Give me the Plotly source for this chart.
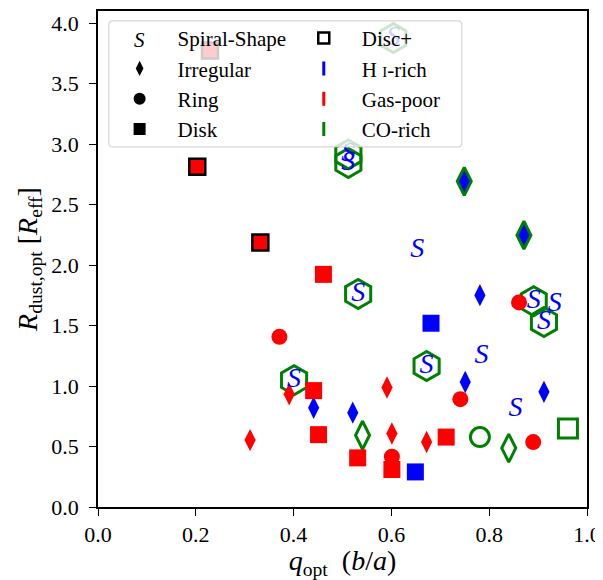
import plotly.graph_objects as go

RED = "#ff0000"
BLUE = "#0000ff"
GREEN = "#008000"
FONT = "Liberation Serif"

# ---- data ----
s_hi_x = [0.653, 0.784, 0.854, 0.934]
s_hi_y = [2.126, 1.245, 0.811, 1.680]
s_co_x = [0.604, 0.512, 0.512, 0.532, 0.891, 0.912, 0.672, 0.401]
s_co_y = [3.876, 2.915, 2.844, 1.761, 1.701, 1.529, 1.165, 1.048]
disk_gp_x = [0.461, 0.441, 0.451, 0.531, 0.601, 0.712]
disk_gp_y = [1.923, 0.962, 0.598, 0.406, 0.310, 0.578]
discp_gp_x = [0.229, 0.203, 0.332]
discp_gp_y = [3.774, 2.813, 2.186]
disk_hi_x = [0.681, 0.649]
disk_hi_y = [1.519, 0.290]
irr_gp_x = [0.311, 0.391, 0.591, 0.601, 0.672]
irr_gp_y = [0.553, 0.932, 0.988, 0.608, 0.537]
irr_hi_x = [0.441, 0.521, 0.751, 0.912, 0.781]
irr_hi_y = [0.821, 0.780, 1.033, 0.952, 1.751]
irr_hico_x = [0.749, 0.871]
irr_hico_y = [2.692, 2.247]
ring_gp_x = [0.371, 0.741, 0.861, 0.890, 0.601]
ring_gp_y = [1.407, 0.891, 1.691, 0.537, 0.416]
irr_co_x = [0.541, 0.840]
irr_co_y = [0.593, 0.487]
ring_co_x = [0.781]
ring_co_y = [0.578]
discp_co_x = [0.961]
discp_co_y = [0.649]

x_ticks = [0.0, 0.2, 0.4, 0.6, 0.8, 1.0]
y_ticks = [0.0, 0.5, 1.0, 1.5, 2.0, 2.5, 3.0, 3.5, 4.0]

legend_col1 = ["Spiral-Shape", "Irregular", "Ring", "Disk"]
legend_col2 = ["Disc+", "H <span style='font-size:15px'>I</span>-rich", "Gas-poor", "CO-rich"]

fig = go.Figure()


def pts(x, y, symbol, color, size, lw=0, lc=None):
    fig.add_trace(go.Scatter(
        x=x, y=y, mode="markers", showlegend=False, hoverinfo="skip",
        marker=dict(symbol=symbol, color=color, size=size,
                    line=dict(width=lw, color=lc if lc else color))))


# hexagons (CO-rich spirals)
pts(s_co_x, s_co_y, "hexagon-open", GREEN, 29, 3)
# circles
pts(ring_gp_x, ring_gp_y, "circle", RED, 16)
pts(ring_co_x, ring_co_y, "circle-open", GREEN, 19, 3)
# diamonds
pts(irr_gp_x, irr_gp_y, "diamond-tall", RED, 16)
pts(irr_hi_x, irr_hi_y, "diamond-tall", BLUE, 16)
pts(irr_hico_x, irr_hico_y, "diamond-tall", BLUE, 20, 3, GREEN)
pts(irr_co_x, irr_co_y, "diamond-tall-open", GREEN, 20, 3)
# squares
pts(disk_gp_x, disk_gp_y, "square", RED, 17)
pts(disk_hi_x, disk_hi_y, "square", BLUE, 17)
pts(discp_gp_x, discp_gp_y, "square", RED, 16, 2.5, "black")
pts(discp_co_x, discp_co_y, "square-open", GREEN, 19, 3)

# S markers
for sx, sy in ((s_hi_x, s_hi_y), (s_co_x, s_co_y)):
    fig.add_trace(go.Scatter(
        x=sx, y=sy, mode="text", text=["S"] * len(sx), showlegend=False,
        hoverinfo="skip",
        textfont=dict(family=FONT, size=28, color=BLUE, style="italic")))

# ---- legend entries ----
leg_styles1 = [
    dict(symbol="square", color="rgba(0,0,0,0)", size=10),
    dict(symbol="diamond-tall", color="black", size=11),
    dict(symbol="circle", color="black", size=12),
    dict(symbol="square", color="black", size=12),
]
leg_styles2 = [
    dict(symbol="square-open", color="black", size=11, line=dict(width=2.5, color="black")),
    dict(symbol="line-ns", color=BLUE, size=10, line=dict(width=3, color=BLUE)),
    dict(symbol="line-ns", color=RED, size=10, line=dict(width=3, color=RED)),
    dict(symbol="line-ns", color=GREEN, size=10, line=dict(width=3, color=GREEN)),
]
for i, (name, st) in enumerate(zip(legend_col1, leg_styles1)):
    fig.add_trace(go.Scatter(x=[None], y=[None], mode="markers", name=name,
                             marker=st, legend="legend", legendgroup=f"a{i}"))
for i, (name, st) in enumerate(zip(legend_col2, leg_styles2)):
    fig.add_trace(go.Scatter(x=[None], y=[None], mode="markers", name=name,
                             marker=st, legend="legend2", legendgroup=f"b{i}"))

# legend frame (rounded, semi-transparent white)
x0, x1, y0, y1, rx, ry = 0.0219, 0.744, 0.726, 0.980, 0.0082, 0.0081
path = (f"M{x0+rx},{y0} L{x1-rx},{y0} Q{x1},{y0} {x1},{y0+ry} L{x1},{y1-ry} Q{x1},{y1} {x1-rx},{y1} "
        f"L{x0+rx},{y1} Q{x0},{y1} {x0},{y1-ry} L{x0},{y0+ry} Q{x0},{y0} {x0+rx},{y0} Z")
fig.add_shape(type="path", path=path, xref="paper", yref="paper", layer="above",
              fillcolor="rgba(255,255,255,0.8)", line=dict(color="rgba(204,204,204,0.8)", width=1.2))

leg_common = dict(bgcolor="rgba(0,0,0,0)", borderwidth=0, xanchor="left", yanchor="top",
                  font=dict(family=FONT, size=21, color="black"), traceorder="grouped",
                  tracegroupgap=0, itemwidth=66)
fig.update_layout(
    legend=dict(x=0.0074, y=0.986, **leg_common),
    legend2=dict(x=0.384, y=0.986, **leg_common),
)

fig.add_annotation(x=0.0854, y=0.942, xref="paper", yref="paper", text="S", showarrow=False,
                   xanchor="center", yanchor="middle",
                   font=dict(family=FONT, size=21, color="black", style="italic"))

axis_common = dict(showgrid=False, zeroline=False, showline=True, linecolor="black", linewidth=1.5,
                   mirror=True, ticks="outside", ticklen=7, tickwidth=1.2, tickcolor="black",
                   automargin=False, ticklabeloverflow="allow",
                   tickfont=dict(family=FONT, size=22, color="black"))
fig.update_xaxes(range=[0, 1], tickvals=x_ticks, ticktext=[f"{v:.1f}" for v in x_ticks],
                 title=dict(text="<i>q</i><sub>opt</sub>  (<i>b</i>/<i>a</i>)",
                            font=dict(family=FONT, size=28, color="black"), standoff=24),
                 **axis_common)
fig.update_yaxes(range=[0, 4.1], tickvals=y_ticks, ticktext=[f"{v:.1f}" for v in y_ticks],
                 ticklabelstandoff=6,
                 title=dict(text="<i>R</i><sub>dust,opt</sub> [<i>R</i><sub>eff</sub>]",
                            font=dict(family=FONT, size=28, color="black"), standoff=6),
                 **axis_common)

# page body adds an 8px offset, so the figure is shifted/shrunk to keep the plot area in place
fig.update_layout(width=595, height=572, margin=dict(l=90, r=16, t=3, b=73),
                  plot_bgcolor="white", paper_bgcolor="white")

fig.write_html("out.html")
